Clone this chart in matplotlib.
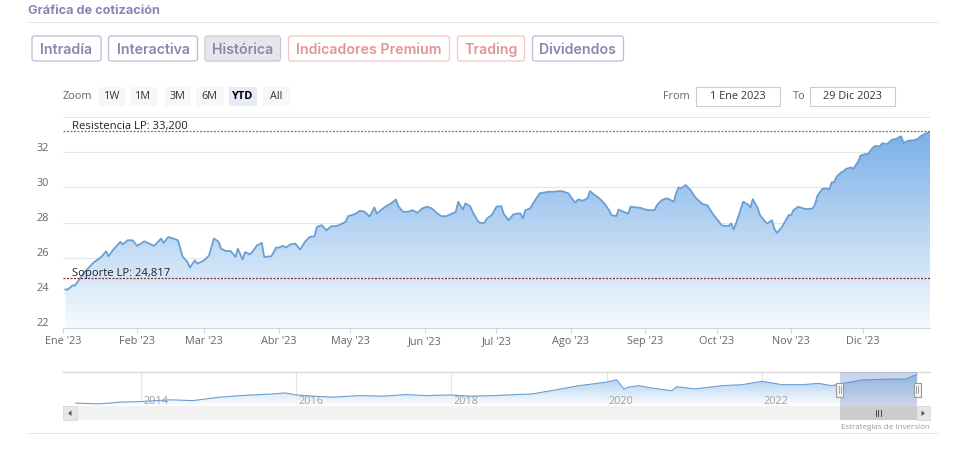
import numpy as np
import pandas as pd
import matplotlib
matplotlib.use("Agg")
import matplotlib.pyplot as plt
import matplotlib.patches as mpatches
import matplotlib.dates as mdates
import matplotlib.transforms as mtrans
from matplotlib.colors import LinearSegmentedColormap

# ---------------------------------------------------------------------------
# Datos (cotizacion 2023, dias desde el 1 de enero)
# ---------------------------------------------------------------------------
dias = [1, 2, 4, 5, 7, 9, 11, 13, 16, 18, 19, 21, 24, 25, 27, 29, 31, 34, 36, 38,
        41, 42, 44, 46, 48, 50, 52, 53, 55, 56, 59, 61, 62, 63, 65, 66, 68, 70, 72, 73,
        75, 76, 78, 79, 81, 83, 84, 87, 89, 90, 92,
        93, 95, 97, 99, 101, 103, 105, 106, 108, 110, 112, 114, 116, 118, 119, 122, 124, 126, 128, 130,
        131, 133, 135, 137, 139, 140, 142, 144, 146, 148, 150, 152, 154, 156, 158, 160, 162, 164, 165, 167,
        168, 170, 171, 173, 174, 176, 177, 179, 181, 183,
        184, 186, 188, 190, 191, 192, 193, 195, 197, 199, 201, 203, 205, 208, 209, 211, 213, 214, 215, 217,
        219, 220, 222, 224, 226, 228, 229, 231, 232, 234, 236, 237, 239, 241, 243, 245, 247, 248, 250, 252,
        253, 255, 256, 257, 258, 260, 262, 264, 266, 267, 269, 271, 273, 275,
        276, 278, 279, 280, 281, 283, 284, 286, 287, 288, 290, 291, 293, 294, 296, 297, 298, 300, 301, 303,
        304, 305, 307, 309, 311, 313, 314, 315, 317, 318, 320, 321, 322, 323, 325, 326, 327, 329, 330, 332,
        333, 335, 336, 338, 339, 341, 342, 344, 345, 346, 348, 349, 350, 351, 352, 354, 355, 357, 358, 360,
        362]
precio = [24.19, 24.19, 24.42, 24.42, 24.80, 25.18, 25.47, 25.75, 26.04, 26.36, 26.08, 26.46, 26.90, 26.76,
          26.99, 26.99, 26.67, 26.93, 26.80, 26.67, 27.09, 26.84, 27.18, 27.09, 26.99, 26.04, 25.75, 25.43,
          25.85, 25.66, 25.85, 26.13, 26.61, 27.09, 26.90, 26.51, 26.38, 26.38, 26.04, 26.51, 25.89, 26.32,
          26.19, 26.32, 26.70, 26.84, 26.04, 26.08, 26.57, 26.57, 26.67,
          26.57, 26.76, 26.80, 26.46, 26.90, 27.18, 27.22, 27.75, 27.85, 27.56, 27.79, 27.79, 27.90, 28.04,
          28.36, 28.48, 28.67, 28.61, 28.33, 28.86, 28.51, 28.74, 28.93, 29.09, 29.31, 28.93, 28.61, 28.61,
          28.70, 28.55, 28.80, 28.90, 28.80, 28.55, 28.36, 28.36, 28.48, 28.61, 29.18, 28.74, 29.09, 28.93,
          28.61, 28.13, 27.98, 27.98, 28.23, 28.42, 28.90, 28.93,
          28.50, 28.13, 28.46, 28.51, 28.51, 28.23, 28.70, 28.80, 29.24, 29.66, 29.71, 29.75, 29.75, 29.79,
          29.75, 29.66, 29.27, 29.13, 29.31, 29.24, 29.37, 29.79, 29.56, 29.37, 29.09, 28.70, 28.42, 28.36,
          28.74, 28.61, 28.51, 28.90, 28.86, 28.84, 28.74, 28.70, 28.70, 28.99, 29.27, 29.37, 29.33, 29.18,
          29.66, 30.00, 29.94, 30.13, 29.85, 29.43, 29.18, 29.05, 28.99, 28.55, 28.20, 27.85,
          27.81, 27.81, 27.94, 27.60, 27.94, 28.76, 29.18, 29.03, 28.84, 29.33, 28.84, 28.42, 28.08, 27.94,
          28.13, 27.66, 27.41, 27.70, 27.94, 28.42, 28.42, 28.70, 28.90, 28.80, 28.76, 28.80, 29.03, 29.52,
          29.90, 29.94, 29.90, 30.29, 30.29, 30.61, 30.86, 30.93, 31.05, 31.13, 31.05, 31.47, 31.81, 31.89,
          31.89, 32.23, 32.36, 32.33, 32.51, 32.46, 32.57, 32.70, 32.76, 32.84, 32.90, 32.51, 32.61, 32.67,
          32.67, 32.76, 32.90, 33.05, 33.15]

meses = ["Ene '23", "Feb '23", "Mar '23", "Abr '23", "May '23", "Jun '23",
         "Jul '23", "Ago '23", "Sep '23", "Oct '23", "Nov '23", "Dic '23"]
y_marcas = [22, 24, 26, 28, 30, 32]
y_rejilla = [24, 26, 28, 30, 32, 34]

resistencia = 33.200
soporte = 24.817

# navegador: historico completo (anio decimal, precio)
nav_anio = [2013.16, 2013.47, 2013.73, 2013.99, 2014.37, 2014.67, 2015.02, 2015.28, 2015.53, 2015.70,
            2015.86, 2016.00, 2016.22, 2016.48, 2016.82, 2017.12, 2017.42, 2017.68, 2017.98, 2018.24,
            2018.56, 2018.82, 2019.04, 2019.34, 2019.64, 2019.98, 2020.13, 2020.22, 2020.28, 2020.41,
            2020.58, 2020.84, 2020.90, 2021.14, 2021.48, 2021.74, 2022.00, 2022.26, 2022.52, 2022.73,
            2022.90, 2023.00, 2023.29, 2023.59, 2023.85, 2024.00]
nav_precio = [7.0, 6.4, 7.9, 8.4, 10.0, 9.3, 12.4, 13.8, 14.7, 15.3,
              16.2, 14.4, 13.3, 12.4, 13.8, 13.3, 14.7, 13.8, 14.4, 13.3,
              13.8, 14.7, 15.3, 18.9, 22.7, 25.7, 28.0, 19.8, 21.3, 22.7,
              20.6, 18.2, 21.8, 19.8, 22.7, 23.6, 26.6, 23.6, 23.6, 24.8,
              22.7, 24.2, 27.8, 28.6, 28.6, 33.1]
nav_anios_marca = [2014, 2016, 2018, 2020, 2022]

botones = ["Intradía", "Interactiva", "Histórica", "Indicadores Premium", "Trading", "Dividendos"]
zoom_botones = ["1W", "1M", "3M", "6M", "YTD", "All"]
desde, hasta = "1 Ene 2023", "29 Dic 2023"

# ---------------------------------------------------------------------------
W, H = 960, 456
fig = plt.figure(figsize=(W / 100, H / 100), dpi=100)
plt.rcParams['font.family'] = ['Open Sans', 'DejaVu Sans']


def caja(x0, y0, x1, y1):
    # rectangulo en pixeles (origen arriba-izquierda) -> fracciones de figura
    return [x0 / W, 1 - y1 / H, (x1 - x0) / W, (y1 - y0) / H]


# capa de interfaz en coordenadas de pixel (por encima de las graficas)
ui = fig.add_axes([0, 0, 1, 1])
ui.set_xlim(0, W)
ui.set_ylim(H, 0)
ui.axis('off')
ui.set_zorder(10)

morado = '#8985b3'
rojo = '#e29590'

ui.text(28, 11, "Gráfica de cotización", fontsize=9.2, fontweight='bold', color=morado,
        family='Inter', va='center', ha='left')
ui.plot([28, 938], [22.5, 22.5], color='#e3e3e8', lw=0.8)
ui.plot([28, 938], [434.5, 434.5], color='#e3e3e8', lw=0.8)

pos_botones = [(32, 101), (108.5, 197.5), (205, 280.5), (288.5, 449.5), (457.5, 524.5), (532.5, 623.5)]
for nombre, (x0, x1) in zip(botones, pos_botones):
    es_rojo = nombre in ("Indicadores Premium", "Trading")
    activo = nombre == "Histórica"
    fc = '#e7e7eb' if activo else 'white'
    ec = '#f0c8c5' if es_rojo else ('#c9c8d6' if activo else '#bdbbd2')
    ui.add_patch(mpatches.FancyBboxPatch((x0, 37), x1 - x0, 25,
                                         boxstyle="round,pad=0,rounding_size=2.5",
                                         fc=fc, ec=ec, lw=0.9))
    ui.text((x0 + x1) / 2, 49.8, nombre, fontsize=10.2, fontweight='semibold', family='Inter',
            color=rojo if es_rojo else morado, ha='center', va='center')

# fila de zoom
ui.text(63, 96.8, "Zoom", fontsize=7.8, color='#666666', ha='left', va='center')
pos_zoom = [(98.5, 125), (130, 157), (164.5, 191), (196, 223.5), (228.5, 257), (262, 289.5)]
for nombre, (x0, x1) in zip(zoom_botones, pos_zoom):
    activo = nombre == "YTD"
    ui.add_patch(mpatches.Rectangle((x0, 87.5), x1 - x0, 19, fc='#e6ebf5' if activo else '#f7f7f7',
                                    ec='none'))
    ui.text((x0 + x1) / 2, 96.8, nombre, fontsize=7.8, color='#000000' if activo else '#333333',
            fontweight='bold' if activo else 'normal', ha='center', va='center')

ui.text(662.5, 96.8, "From", fontsize=7.8, color='#666666', ha='left', va='center')
ui.text(792.5, 96.8, "To", fontsize=7.8, color='#666666', ha='left', va='center')
for txt, (x0, x1) in [(desde, (695.5, 779.5)), (hasta, (809.5, 894.5))]:
    ui.add_patch(mpatches.Rectangle((x0, 87.5), x1 - x0, 19, fc='white', ec='#cccccc', lw=0.8))
    ui.text((x0 + x1) / 2, 96.8, txt, fontsize=7.8, color='#333333', ha='center', va='center')

# ---------------------------------------------------------------------------
# grafica principal
ax = fig.add_axes(caja(63, 118, 930, 329))
ax.patch.set_alpha(0)

inicio = pd.Timestamp('2023-01-01')
fechas = inicio + pd.to_timedelta(dias, unit='D')
xf = mdates.date2num(fechas)
x_ini = mdates.date2num(inicio)
x_fin = mdates.date2num(pd.Timestamp('2023-12-29'))
y_min, y_max = 22, 34

for v in y_rejilla:
    ax.axhline(v, color='#e6e6e6', lw=0.8, zorder=0)

degradado = LinearSegmentedColormap.from_list('azul', ['#f6faff', '#72abe5'])
poli = ax.fill_between(xf, precio, y_min, facecolor='none', edgecolor='none')
img = ax.imshow(np.linspace(0, 1, 256).reshape(-1, 1), extent=[x_ini, x_fin, y_min, y_max],
                origin='lower', aspect='auto', cmap=degradado, zorder=1)
img.set_clip_path(poli.get_paths()[0], transform=ax.transData)
ax.plot(xf, precio, color='#6b9fd4', lw=1.3, zorder=3, solid_joinstyle='round')

ax.axhline(resistencia, color='#5b8a5b', lw=0.9, ls=(0, (1.6, 1.2)), zorder=4)
ax.axhline(soporte, color='#8a2f2f', lw=0.9, ls=(0, (1.6, 1.2)), zorder=4)
ax.annotate("Resistencia LP: 33,200", xy=(0, resistencia), xycoords=('axes fraction', 'data'),
            xytext=(9, 3), textcoords='offset pixels', fontsize=8.1, color='#222222', va='baseline')
ax.annotate("Soporte LP: 24,817", xy=(0, soporte), xycoords=('axes fraction', 'data'),
            xytext=(9, 3), textcoords='offset pixels', fontsize=8.1, color='#222222', va='baseline',
            zorder=5)

ax.set_xlim(x_ini, x_fin)
ax.set_ylim(y_min, y_max)
for s in ['top', 'right', 'left']:
    ax.spines[s].set_visible(False)
ax.spines['bottom'].set_color('#ccd6eb')
ax.spines['bottom'].set_linewidth(0.8)
ax.set_yticks([])

inicios_mes = mdates.date2num(pd.date_range('2023-01-01', '2023-12-01', freq='MS'))
ax.set_xticks(inicios_mes)
ax.tick_params(axis='x', direction='out', length=3.6, width=0.8, color='#ccd6eb', labelbottom=False)
for xm, etiqueta in zip(inicios_mes, meses):
    ax.annotate(etiqueta, xy=(xm, 0), xycoords=('data', 'axes fraction'), xytext=(0, -13),
                textcoords='offset pixels', ha='center', va='center', fontsize=7.8, color='#666666')
for v in y_marcas:
    ax.annotate(str(v), xy=(0, v), xycoords=('axes fraction', 'data'), xytext=(-14, 5),
                textcoords='offset pixels', ha='right', va='center', fontsize=7.8, color='#666666')

# ---------------------------------------------------------------------------
# navegador
nav = fig.add_axes(caja(63, 373, 930, 407.5))
nav.patch.set_alpha(0)
nav_x0, nav_x1 = 2012.995, 2024.165
nav_y0, nav_y1 = 4, 35
for s in ['bottom', 'right', 'left']:
    nav.spines[s].set_visible(False)
nav.spines['top'].set_color('#d8d8d8')
nav.spines['top'].set_linewidth(0.9)
nav.set_xticks([])
nav.set_yticks([])
for a in nav_anios_marca:
    nav.axvline(a, color='#e6e6e6', lw=0.8, zorder=0)

degradado_nav = LinearSegmentedColormap.from_list('azul_nav', ['#ffffff', '#8cbdec'])
poli_nav = nav.fill_between(nav_anio, nav_precio, nav_y0, facecolor='none', edgecolor='none')
img_nav = nav.imshow(np.linspace(0, 1, 256).reshape(-1, 1), extent=[nav_x0, nav_x1, nav_y0, nav_y1],
                     origin='lower', aspect='auto', cmap=degradado_nav, alpha=0.85, zorder=1)
img_nav.set_clip_path(poli_nav.get_paths()[0], transform=nav.transData)
# etiquetas de anio: 2 px a la derecha de la linea, 6 px sobre el borde inferior
desplaza = mtrans.Affine2D().translate(2, 6)
for a in nav_anios_marca:
    nav.text(a, nav_y0, str(a), fontsize=7.8, color='#a0a0a0', ha='left', va='center', zorder=2,
             transform=nav.transData + desplaza)
nav.plot(nav_anio, nav_precio, color='#6b9fd4', lw=0.8, zorder=3)
nav.set_xlim(nav_x0, nav_x1)
nav.set_ylim(nav_y0, nav_y1)

sel0, sel1 = 2023.0, 2024.0
nav.axvspan(sel0, sel1, color='#6685c2', alpha=0.33, lw=0, zorder=4)

# posiciones en pixel de la seleccion
px0 = nav.transData.transform((sel0, 0))[0]
px1 = nav.transData.transform((sel1, 0))[0]

for px in (px0, px1):
    ui.add_patch(mpatches.Rectangle((px - 3.5, 383.5), 7, 14, fc='#f2f2f2', ec='#999999', lw=0.8,
                                    zorder=6))
    ui.plot([px - 1, px - 1], [387, 394], color='#999999', lw=0.6, zorder=7)
    ui.plot([px + 1, px + 1], [387, 394], color='#999999', lw=0.6, zorder=7)

# barra de desplazamiento
ui.add_patch(mpatches.Rectangle((63, 407.5), 867, 13.5, fc='#f2f2f2', ec='none'))
ui.add_patch(mpatches.Rectangle((63, 407.5), 13.5, 13.5, fc='#e6e6e6', ec='#d9d9d9', lw=0.6))
ui.add_patch(mpatches.Rectangle((916.5, 407.5), 13.5, 13.5, fc='#e6e6e6', ec='#d9d9d9', lw=0.6))
ui.add_patch(mpatches.Polygon([[71.5, 411.5], [71.5, 417], [68, 414.25]], closed=True, fc='#555555',
                              ec='none'))
ui.add_patch(mpatches.Polygon([[921.5, 411.5], [921.5, 417], [925, 414.25]], closed=True, fc='#555555',
                              ec='none'))
ui.add_patch(mpatches.Rectangle((px0, 407.5), px1 - px0 - 0.5, 13.5, fc='#cccccc', ec='none'))
xc = (px0 + px1) / 2
for dx in (-2.5, 0, 2.5):
    ui.plot([xc + dx, xc + dx], [411.5, 417], color='#333333', lw=0.6)

ui.text(930, 427.5, "Estrategias de Inversión", fontsize=5.8, color='#999999', ha='right', va='center')

fig.savefig("out.png", dpi=100)
